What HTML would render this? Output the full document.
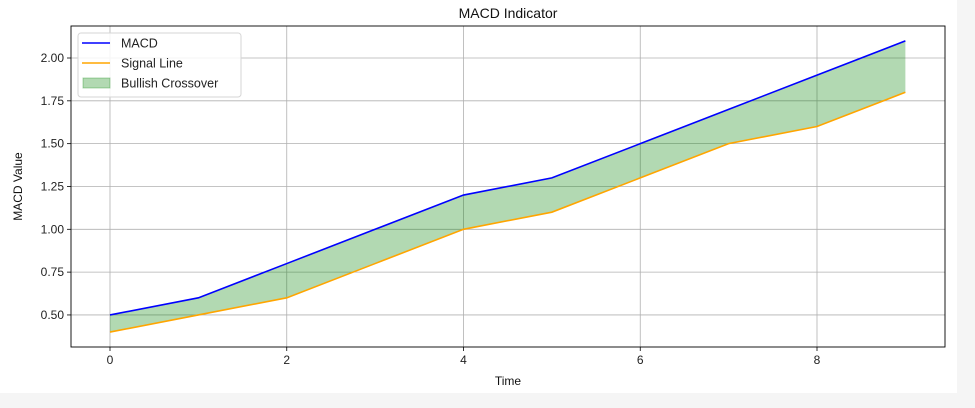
<!DOCTYPE html>
<html><head><meta charset="utf-8"><style>
html,body{margin:0;padding:0;background:#f5f5f5;}
svg{display:block;font-family:"Liberation Sans","DejaVu Sans",sans-serif;}
</style></head><body>
<svg id="chart" width="975" height="408">
<rect x="0" y="0" width="957" height="393" fill="#ffffff"/>
<g id="grid"></g><g id="marks"></g><g id="axes"></g>
</svg>
<script>
const xValues=[0,1,2,3,4,5,6,7,8,9];
const macdValues=[0.5,0.6,0.8,1.0,1.2,1.3,1.5,1.7,1.9,2.1];
const signalValues=[0.4,0.5,0.6,0.8,1.0,1.1,1.3,1.5,1.6,1.8];
const xTicks=[0,2,4,6,8];
const yTicks=[0.5,0.75,1.0,1.25,1.5,1.75,2.0];
const yTickLabels=["0.50","0.75","1.00","1.25","1.50","1.75","2.00"];

const L=71,R=945,T=26,B=347;
const xs=v=>110+v*88.375;
const ys=v=>58+(2-v)*171.3;
const NS="http://www.w3.org/2000/svg";
function mk(tag,attrs,parent,text){const e=document.createElementNS(NS,tag);for(const k in attrs)e.setAttribute(k,attrs[k]);if(text!==undefined)e.textContent=text;parent.appendChild(e);return e;}
const grid=document.getElementById('grid'),marks=document.getElementById('marks'),axes=document.getElementById('axes');

xTicks.forEach(t=>{
 const g=mk('line',{x1:xs(t),x2:xs(t),y1:T,y2:B,stroke:'#b0b0b0','stroke-width':0.8},grid);
 
 
 const tk=mk('line',{x1:xs(t),x2:xs(t),y1:B,y2:B+4,stroke:'#000','stroke-width':0.8},axes);
 
 
 const lb=mk('text',{x:xs(t),y:B+17,'text-anchor':'middle','font-size':12,fill:'#222'},axes,String(t));
 
 
});
yTicks.forEach((t,i)=>{
 const g=mk('line',{x1:L,x2:R,y1:ys(t),y2:ys(t),stroke:'#b0b0b0','stroke-width':0.8},grid);
 
 
 const tk=mk('line',{x1:L-4,x2:L,y1:ys(t),y2:ys(t),stroke:'#000','stroke-width':0.8},axes);
 
 
 const lb=mk('text',{x:L-7,y:ys(t)+4,'text-anchor':'end','font-size':12,fill:'#222'},axes,yTickLabels[i]);
 
 
});

const topPts=xValues.map((x,i)=>xs(x)+','+ys(macdValues[i]));
const botPts=xValues.map((x,i)=>xs(x)+','+ys(signalValues[i])).reverse();
const area=mk('polygon',{points:topPts.concat(botPts).join(' '),fill:'rgba(0,128,0,0.3)',stroke:'none'},marks);


const sig=mk('polyline',{points:xValues.map((x,i)=>xs(x)+','+ys(signalValues[i])).join(' '),fill:'none',stroke:'#ffa500','stroke-width':1.6},marks);


const macd=mk('polyline',{points:topPts.join(' '),fill:'none',stroke:'#0000ff','stroke-width':1.6},marks);



const frame=mk('rect',{x:L,y:T,width:R-L,height:B-T,fill:'none',stroke:'#000','stroke-width':0.9},axes);


const title=mk('text',{x:(L+R)/2,y:18,'text-anchor':'middle','font-size':14,fill:'#111'},axes,'MACD Indicator');


const xt=mk('text',{x:(L+R)/2,y:385,'text-anchor':'middle','font-size':12,fill:'#111'},axes,'Time');


const yt=mk('text',{x:22,y:(T+B)/2,'text-anchor':'middle','font-size':12,fill:'#111',transform:'rotate(-90 22 '+((T+B)/2)+')'},axes,'MACD Value');



const leg=mk('g',{},axes);


mk('rect',{x:78,y:33,width:163,height:64,rx:3,fill:'#fff','fill-opacity':0.85,stroke:'#d6d6d6'},leg);
const entries=[['MACD','line','#0000ff'],['Signal Line','line','#ffa500'],['Bullish Crossover','patch','rgba(0,128,0,0.3)']];
entries.forEach((e,i)=>{
 const y=43+i*20;
 const g=mk('g',{},leg);
 
 
 if(e[1]==='line') mk('line',{x1:82,x2:110,y1:y,y2:y,stroke:e[2],'stroke-width':1.6},g);
 else mk('rect',{x:83,y:y-5,width:27,height:10,fill:e[2],stroke:'rgba(0,128,0,0.3)'},g);
 mk('text',{x:121,y:y+4.5,'font-size':12.5,fill:'#222'},g,e[0]);
});
</script>
</body></html>
